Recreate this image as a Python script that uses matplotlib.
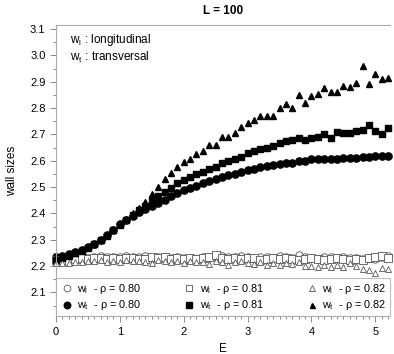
import numpy as np
import matplotlib
matplotlib.use('Agg')
from matplotlib import pyplot as plt
from matplotlib.ticker import MultipleLocator

plt.rcParams['font.family'] = ['Liberation Sans', 'DejaVu Sans']
plt.rcParams['mathtext.fontset'] = 'custom'
plt.rcParams['mathtext.rm'] = 'Liberation Sans'

# field values E = 0.0 ... 5.2
E = np.round(np.arange(0, 53) * 0.1, 1)

# transversal wall sizes (filled markers)
wt80 = [2.235, 2.240, 2.245, 2.252, 2.262, 2.272, 2.285, 2.300, 2.318, 2.338,
        2.358, 2.375, 2.392, 2.405, 2.418, 2.428, 2.440, 2.452, 2.465, 2.478,
        2.488, 2.497, 2.506, 2.514, 2.522, 2.530, 2.537, 2.545, 2.550, 2.558,
        2.565, 2.570, 2.575, 2.580, 2.584, 2.588, 2.590, 2.593, 2.600, 2.598,
        2.605, 2.605, 2.607, 2.606, 2.608, 2.612, 2.612, 2.610, 2.614, 2.616,
        2.617, 2.618, 2.619]
wt81 = [2.225, 2.232, 2.240, 2.248, 2.258, 2.270, 2.283, 2.298, 2.316, 2.336,
        2.356, 2.375, 2.395, 2.412, 2.430, 2.450, 2.465, 2.480, 2.495, 2.515,
        2.528, 2.540, 2.550, 2.558, 2.567, 2.578, 2.590, 2.600, 2.607, 2.615,
        2.630, 2.638, 2.645, 2.650, 2.655, 2.668, 2.675, 2.680, 2.687, 2.680,
        2.688, 2.692, 2.700, 2.688, 2.710, 2.705, 2.707, 2.713, 2.718, 2.735,
        2.713, 2.700, 2.725]
wt82 = [2.230, 2.235, 2.242, 2.250, 2.260, 2.272, 2.285, 2.300, 2.318, 2.338,
        2.360, 2.380, 2.400, 2.422, 2.445, 2.475, 2.500, 2.530, 2.552, 2.575,
        2.595, 2.607, 2.626, 2.637, 2.660, 2.660, 2.690, 2.690, 2.705, 2.730,
        2.745, 2.755, 2.770, 2.770, 2.770, 2.800, 2.815, 2.800, 2.850, 2.820,
        2.845, 2.855, 2.875, 2.860, 2.860, 2.885, 2.880, 2.895, 2.960, 2.890,
        2.930, 2.910, 2.915]

# longitudinal wall sizes (open markers)
wl80 = [2.215, 2.218, 2.220, 2.225, 2.228, 2.232, 2.235, 2.238, 2.236, 2.234,
        2.236, 2.240, 2.233, 2.236, 2.238, 2.232, 2.236, 2.234, 2.230, 2.235,
        2.232, 2.230, 2.228, 2.233, 2.231, 2.236, 2.240, 2.235, 2.236, 2.238,
        2.233, 2.230, 2.236, 2.234, 2.232, 2.238, 2.234, 2.232, 2.242, 2.236,
        2.230, 2.228, 2.236, 2.233, 2.232, 2.236, 2.230, 2.232, 2.228, 2.230,
        2.226, 2.234, 2.238]
wl81 = [2.222, 2.224, 2.220, 2.226, 2.230, 2.228, 2.232, 2.230, 2.226, 2.232,
        2.228, 2.230, 2.232, 2.226, 2.228, 2.233, 2.230, 2.236, 2.228, 2.230,
        2.226, 2.232, 2.228, 2.232, 2.236, 2.242, 2.232, 2.226, 2.230, 2.228,
        2.232, 2.230, 2.224, 2.228, 2.232, 2.226, 2.230, 2.226, 2.224, 2.228,
        2.230, 2.226, 2.222, 2.226, 2.230, 2.228, 2.224, 2.226, 2.222, 2.230,
        2.236, 2.240, 2.232]
wl82 = [2.210, 2.212, 2.212, 2.214, 2.216, 2.220, 2.218, 2.222, 2.216, 2.220,
        2.214, 2.222, 2.218, 2.220, 2.214, 2.210, 2.222, 2.218, 2.216, 2.220,
        2.212, 2.218, 2.214, 2.216, 2.208, 2.218, 2.214, 2.206, 2.216, 2.220,
        2.212, 2.208, 2.214, 2.204, 2.210, 2.206, 2.212, 2.208, 2.214, 2.200,
        2.202, 2.198, 2.206, 2.196, 2.204, 2.198, 2.210, 2.202, 2.190, 2.184,
        2.172, 2.192, 2.190]

fig = plt.figure(figsize=(3.94, 3.54), dpi=100)
ax = fig.add_axes([0.142, 0.107, 0.848, 0.822])

edge = '#555555'
open_kw = dict(linestyle='none', markerfacecolor='white', markeredgecolor=edge,
               markeredgewidth=0.6, clip_on=False)
fill_kw = dict(linestyle='none', color='black', clip_on=False)

ax.plot(E, wl80, 'o', markersize=5.4, label='w$_\\mathregular{l}$  - ρ = 0.80', **open_kw)
ax.plot(E, wt80, 'o', markersize=5.2, label='w$_\\mathregular{t}$  - ρ = 0.80', **fill_kw)
ax.plot(E, wl81, 's', markersize=5.4, label='w$_\\mathregular{l}$  - ρ = 0.81', **open_kw)
ax.plot(E, wt81, 's', markersize=5.0, label='w$_\\mathregular{t}$  - ρ = 0.81', **fill_kw)
ax.plot(E, wl82, '^', markersize=4.8, label='w$_\\mathregular{l}$  - ρ = 0.82', **open_kw)
ax.plot(E, wt82, '^', markersize=4.0, label='w$_\\mathregular{t}$  - ρ = 0.82', **fill_kw)

ax.set_xlim(0, 5.23)
ax.set_ylim(2.01, 3.115)
ax.xaxis.set_major_locator(MultipleLocator(1))
ax.xaxis.set_minor_locator(MultipleLocator(0.1))
ax.yaxis.set_major_locator(MultipleLocator(0.1))
ax.yaxis.set_minor_locator(MultipleLocator(0.05))
ax.tick_params(which='both', direction='out', colors='#777777', labelcolor='black',
               labelsize=8, width=0.6)
ax.tick_params(which='major', length=4)
ax.tick_params(which='minor', length=2)

for side in ['left', 'top', 'bottom']:
    ax.spines[side].set_color('#aaaaaa')
    ax.spines[side].set_linewidth(0.8)
ax.spines['right'].set_visible(False)

ax.set_xlabel('E', fontsize=8.5, labelpad=5)
ax.set_ylabel('wall sizes', fontsize=8.5, labelpad=9)
ax.set_title('L = 100', fontsize=8.5, fontweight='bold', pad=8)

ax.text(0.042, 0.975, 'w$_\\mathregular{l}$ : longitudinal', transform=ax.transAxes,
        fontsize=8.5, va='top')
ax.text(0.042, 0.915, 'w$_\\mathregular{t}$ : transversal', transform=ax.transAxes,
        fontsize=8.5, va='top')

leg = ax.legend(ncol=3, loc='lower left', bbox_to_anchor=(0, 0, 1, 0.131),
                mode='expand', fontsize=7.8, frameon=True, fancybox=False,
                borderaxespad=0, handletextpad=0.3, columnspacing=1.0,
                labelspacing=0.25, handlelength=1.3, borderpad=0.35,
                markerscale=0.9)
leg.get_frame().set_edgecolor('#aaaaaa')
leg.get_frame().set_linewidth(0.8)

fig.savefig('out.png', dpi=100)
